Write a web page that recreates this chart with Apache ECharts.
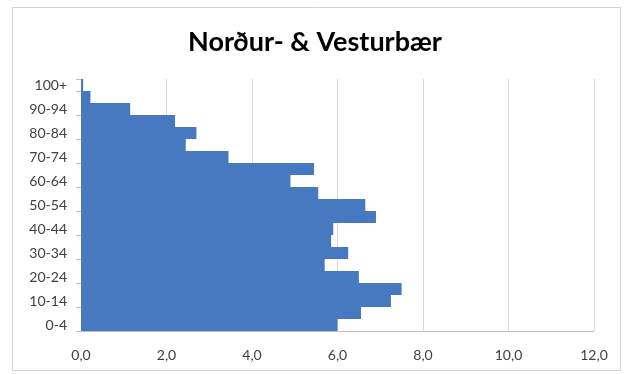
<!DOCTYPE html>
<html>
<head>
<meta charset="utf-8">
<script src="https://cdn.jsdelivr.net/npm/echarts@6/dist/echarts.min.js"></script>
<style>
    html, body { margin: 0; padding: 0; background: #fff; }
    #chart { width: 630px; height: 374px; }
</style>
</head>
<body>
<div id="chart"></div>
<script>
// aldurshópar, neðst til efst
const ageGroups = ['0-4', '5-9', '10-14', '15-19', '20-24', '25-29', '30-34', '35-39', '40-44', '45-49',
    '50-54', '55-59', '60-64', '65-69', '70-74', '75-79', '80-84', '85-89', '90-94', '95-99', '100+'];
const shares = [6.0, 6.55, 7.25, 7.5, 6.5, 5.7, 6.25, 5.85, 5.9, 6.9,
    6.65, 5.55, 4.9, 5.45, 3.45, 2.45, 2.7, 2.2, 1.15, 0.22, 0.05];
const title = 'Norður- & Vesturbær';

const chart = echarts.init(document.getElementById('chart'));
chart.setOption({
    backgroundColor: '#fff',
    animation: false,
    title: {
        text: title,
        left: 'center',
        top: 24,
        textStyle: {
            fontFamily: 'Lato',
            fontWeight: 'bold',
            fontSize: 27,
            color: '#000'
        }
    },
    graphic: [
        {
            type: 'rect',
            shape: { x: 12.5, y: 7.5, width: 608, height: 363 },
            style: { fill: null, stroke: '#d4d4d4', lineWidth: 1 },
            silent: true
        }
    ],
    grid: {
        left: 81,
        right: 36,
        top: 79,
        bottom: 43
    },
    xAxis: {
        type: 'value',
        min: 0,
        max: 12,
        interval: 2,
        axisLine: { show: true, lineStyle: { color: '#bfbfbf' } },
        axisTick: { show: false },
        axisLabel: {
            margin: 17,
            fontFamily: 'Lato',
            fontSize: 14,
            color: '#404040',
            formatter: v => v.toFixed(1).replace('.', ',')
        },
        splitLine: { show: true, lineStyle: { color: '#d9d9d9' } }
    },
    yAxis: {
        type: 'category',
        data: ageGroups,
        axisLine: { show: true, lineStyle: { color: '#bfbfbf' } },
        axisTick: { show: true, interval: 1, length: 5, lineStyle: { color: '#bfbfbf' } },
        axisLabel: {
            interval: 1,
            margin: 14,
            fontFamily: 'Lato',
            fontSize: 14,
            color: '#404040'
        }
    },
    series: [
        {
            type: 'bar',
            data: shares,
            barCategoryGap: '0%',
            itemStyle: { color: '#4679bf' }
        }
    ]
});
</script>
</body>
</html>
